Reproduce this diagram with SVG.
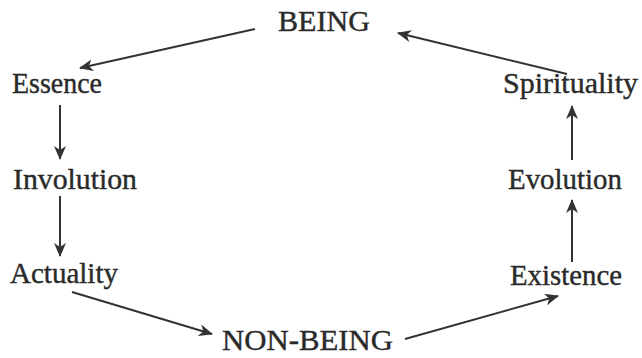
<svg xmlns="http://www.w3.org/2000/svg" width="642" height="358" viewBox="0 0 642 358">
<style>
.t{font-family:"Liberation Serif","Times New Roman",serif;font-size:30px;fill:#2a2a2a;stroke:#2a2a2a;stroke-width:0.4}
.c{stroke:#333;stroke-width:2;fill:none;marker-end:url(#ah)}
</style>
<defs>
<marker id="ah" viewBox="0 0 14 12" refX="13" refY="6" markerWidth="14" markerHeight="12" markerUnits="userSpaceOnUse" orient="auto">
<path d="M0,0 L14,6 L0,12 L4,6 z" fill="#333"/>
</marker>
</defs>
<rect width="642" height="358" fill="#fff"/>
<g id="connectors">
<line class="c" x1="255" y1="29" x2="80" y2="68"/>
<line class="c" x1="567" y1="74" x2="398" y2="33"/>
<line class="c" x1="60" y1="105" x2="60" y2="159"/>
<line class="c" x1="60" y1="196" x2="60" y2="256"/>
<line class="c" x1="72" y1="292" x2="212" y2="334"/>
<line class="c" x1="405" y1="339" x2="558" y2="296"/>
<line class="c" x1="572" y1="262" x2="572" y2="200"/>
<line class="c" x1="572" y1="160" x2="572" y2="106"/>
</g>
<g id="being"><text class="t" x="278" y="31" textLength="92" lengthAdjust="spacingAndGlyphs">BEING</text></g>
<g id="essence"><text class="t" x="12" y="93" textLength="90" lengthAdjust="spacingAndGlyphs">Essence</text></g>
<g id="involution"><text class="t" x="13" y="189" textLength="124" lengthAdjust="spacingAndGlyphs">Involution</text></g>
<g id="actuality"><text class="t" x="10" y="283" textLength="108" lengthAdjust="spacingAndGlyphs">Actuality</text></g>
<g id="nonbeing"><text class="t" x="222" y="350" textLength="171" lengthAdjust="spacingAndGlyphs">NON-BEING</text></g>
<g id="existence"><text class="t" x="510" y="285" textLength="112" lengthAdjust="spacingAndGlyphs">Existence</text></g>
<g id="evolution"><text class="t" x="508" y="189" textLength="114" lengthAdjust="spacingAndGlyphs">Evolution</text></g>
<g id="spirituality"><text class="t" x="503" y="93" textLength="135" lengthAdjust="spacingAndGlyphs">Spirituality</text></g>
</svg>
